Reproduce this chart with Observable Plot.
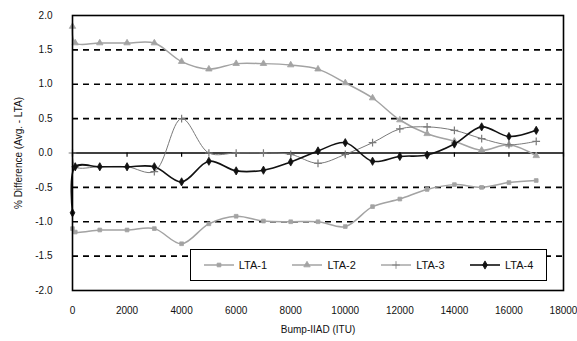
<!DOCTYPE html>
<html>
<head>
<meta charset="utf-8">
<script src="https://cdn.jsdelivr.net/npm/d3@7"></script>
<script src="https://cdn.jsdelivr.net/npm/@observablehq/plot@0.6"></script>
<style>
  html, body { margin: 0; padding: 0; background: #fff; }
  #wrap { position: relative; width: 577px; height: 341px; }
  #legend {
    position: absolute; left: 190px; top: 249px; width: 355px; height: 30px;
    border: 1.5px solid #000; background: #fff; box-sizing: content-box;
    display: flex; align-items: center; justify-content: space-around;
    font-family: "Liberation Sans", Arial, sans-serif; font-size: 11px; color: #111;
  }
  #legend .item { display: flex; align-items: center; gap: 5px; }
</style>
</head>
<body>
<div id="wrap"></div>
<script>
// ---- data ----
const xValues = [0, 100, 1000, 2000, 3000, 4000, 5000, 6000, 7000, 8000, 9000, 10000, 11000, 12000, 13000, 14000, 15000, 16000, 17000];
const lta1 = [-1.10, -1.15, -1.12, -1.12, -1.10, -1.32, -1.03, -0.92, -0.99, -1.00, -1.00, -1.07, -0.78, -0.67, -0.53, -0.46, -0.50, -0.43, -0.40];
const lta2 = [1.84, 1.60, 1.60, 1.60, 1.60, 1.33, 1.22, 1.30, 1.30, 1.28, 1.22, 1.02, 0.80, 0.48, 0.28, 0.17, 0.04, 0.12, -0.04];
const lta3 = [0.00, -0.20, -0.20, -0.20, -0.27, 0.50, 0.00, 0.00, 0.00, -0.02, -0.15, -0.02, 0.15, 0.35, 0.38, 0.33, 0.21, 0.12, 0.17];
const lta4 = [-0.87, -0.20, -0.20, -0.20, -0.20, -0.42, -0.12, -0.26, -0.25, -0.13, 0.03, 0.15, -0.12, -0.05, -0.03, 0.13, 0.38, 0.24, 0.33];
const seriesNames = ["LTA-1", "LTA-2", "LTA-3", "LTA-4"];
const xTicks = [0, 2000, 4000, 6000, 8000, 10000, 12000, 14000, 16000, 18000];
const yTicks = [-2.0, -1.5, -1.0, -0.5, 0.0, 0.5, 1.0, 1.5, 2.0];
const gridValues = [-1.5, -1.0, -0.5, 0.5, 1.0, 1.5];
const xLabel = "Bump-IIAD (ITU)";
const yLabel = "% Difference (Avg. - LTA)";

const styles = {
  "LTA-1": {stroke: "#a3a3a3", width: 1.5, symbol: "square", fill: "#a3a3a3", r: 2.1},
  "LTA-2": {stroke: "#a3a3a3", width: 1.5, symbol: "triangle", fill: "#a3a3a3", r: 2.4},
  "LTA-3": {stroke: "#7a7a7a", width: 1, symbol: "plus", fill: "none", r: 2.6},
  "LTA-4": {stroke: "#111111", width: 1.6, symbol: "diamond", fill: "#111111", r: 2.5}
};
const d3Symbols = {square: d3.symbolSquare, triangle: d3.symbolTriangle, plus: d3.symbolPlus, diamond: d3.symbolDiamond};

const allSeries = [lta1, lta2, lta3, lta4];
const rows = [];
seriesNames.forEach((name, i) => {
  xValues.forEach((x, j) => rows.push({series: name, x, y: allSeries[i][j]}));
});

const marks = [
  Plot.ruleY(gridValues, {stroke: "#000", strokeWidth: 1.6, strokeDasharray: "6,5"}),
  Plot.ruleY([0], {stroke: "#000", strokeWidth: 1.6}),
  Plot.ruleX(xTicks, {x: d => d, y1: 0, y2: -0.06, stroke: "#000", strokeWidth: 1.2})
];
seriesNames.forEach(name => {
  const s = styles[name];
  const data = rows.filter(r => r.series === name);
  marks.push(Plot.line(data, {x: "x", y: "y", stroke: s.stroke, strokeWidth: s.width, curve: "catmull-rom"}));
  marks.push(Plot.dot(data, {x: "x", y: "y", symbol: () => s.symbol, r: s.r,
    fill: s.fill === "none" ? null : s.fill, stroke: s.stroke, strokeWidth: s.fill === "none" ? 1.2 : 0.8}));
});
marks.push(Plot.frame({stroke: "#000", strokeWidth: 1.6}));
marks.push(Plot.axisX({ticks: xTicks, tickSize: 0, tickPadding: 16, tickFormat: d => String(d),
  label: xLabel, labelAnchor: "center", labelOffset: 42, labelArrow: "none"}));
marks.push(Plot.axisY({ticks: yTicks, tickSize: 0, tickPadding: 20, tickFormat: d => d.toFixed(1),
  label: yLabel, labelAnchor: "center", labelOffset: 58, labelArrow: "none"}));

const chart = Plot.plot({
  width: 577, height: 341,
  marginLeft: 72, marginRight: 14, marginTop: 15, marginBottom: 51,
  x: {domain: [0, 18000]},
  y: {domain: [-2, 2]},
  style: {fontFamily: "'Liberation Sans', Arial, sans-serif", fontSize: "10px", color: "#111", background: "#fff"},
  marks
});
const wrap = document.getElementById("wrap");
wrap.appendChild(chart);

// legend (inside the plot area, bottom right, as in the reference)
const legend = document.createElement("div");
legend.id = "legend";
seriesNames.forEach(name => {
  const s = styles[name];
  const item = document.createElement("div");
  item.className = "item";
  const sym = d3.symbol(d3Symbols[s.symbol], Math.PI * s.r * s.r)();
  item.innerHTML = `<svg width="30" height="10"><line x1="0" y1="5" x2="30" y2="5" stroke="${s.stroke}" stroke-width="${s.width}"/>` +
    `<path d="${sym}" transform="translate(15,5)" fill="${s.fill}" stroke="${s.stroke}" stroke-width="0.8"/></svg><span>${name}</span>`;
  legend.appendChild(item);
});
wrap.appendChild(legend);
</script>
</body>
</html>
